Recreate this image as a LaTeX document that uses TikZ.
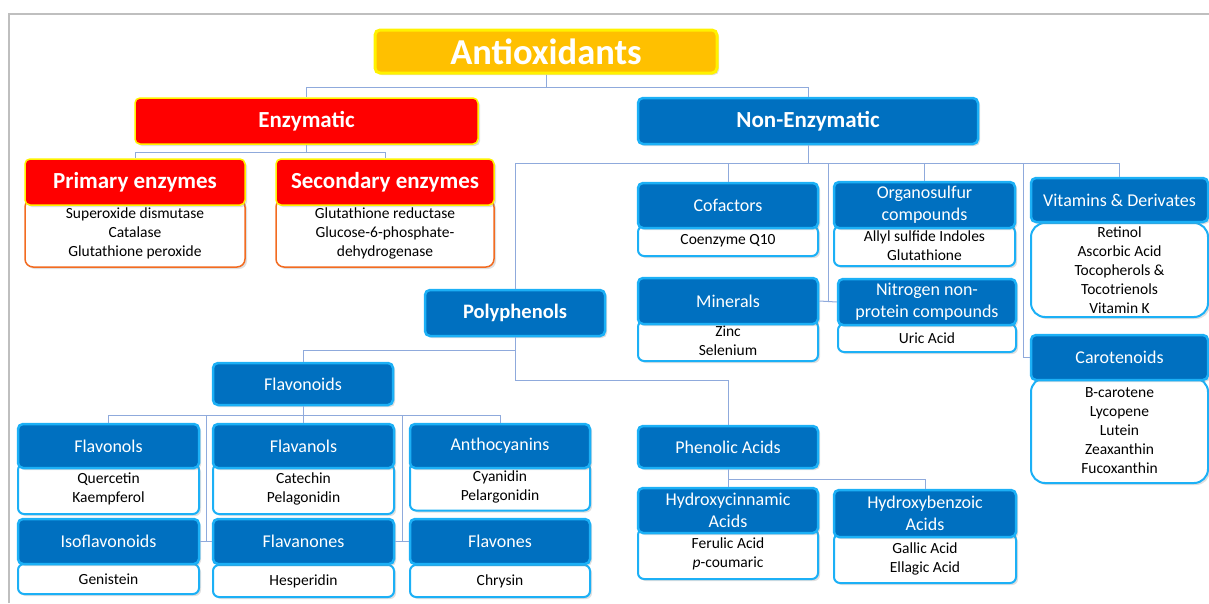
\documentclass[tikz,border=0pt]{standalone}
\usepackage{fontspec}
\setmainfont{Carlito}
\usetikzlibrary{calc,shadows}
\definecolor{hdblue}{HTML}{0070C0}
\definecolor{rimblue}{HTML}{1CB0F6}
\definecolor{linkblue}{HTML}{8FAADC}
\definecolor{goldfill}{HTML}{FFC000}
\definecolor{rimorange}{HTML}{F26B21}
\definecolor{framegray}{HTML}{BFBFBF}
\tikzset{
  box/.style={shape=rectangle, inner sep=0pt, align=center,
    drop shadow={shadow xshift=2pt, shadow yshift=-2pt, opacity=.25}},
  head/.style={box, fill=hdblue, draw=rimblue, line width=2.5pt, rounded corners=5pt,
    text=white, minimum width=180pt, minimum height=45pt, font=\fontsize{18}{22}\selectfont},
  body/.style={box, fill=white, draw=rimblue, line width=2pt, rounded corners=6pt,
    minimum width=180pt, font=\fontsize{15.5}{19}\selectfont},
  redhead/.style={box, fill=red, draw=yellow, line width=1.5pt, rounded corners=5pt,
    text=white, minimum height=46pt, font=\bfseries\fontsize{23}{27}\selectfont},
  redbody/.style={box, fill=white, draw=rimorange, line width=1.5pt, rounded corners=8pt,
    font=\fontsize{15.5}{19}\selectfont},
  link/.style={draw=linkblue, line width=1pt},
}
\begin{document}
\begin{tikzpicture}[x=1pt, y=-1pt]
  \useasboundingbox (0,0) rectangle (1209,603);
  \draw[framegray, line width=2pt] (9,603) -- (9,14) -- (1209,14);

  % top levels
  \node[box, fill=goldfill, draw=yellow, line width=3pt, rounded corners=5pt, text=white,
    minimum width=342pt, minimum height=43pt, font=\bfseries\fontsize{36.5}{40}\selectfont] (anti) at (546,51.5) {Antioxidants};
  \node[redhead, minimum width=343pt] (enz) at (306.5,121) {Enzymatic};
  \node[head, minimum width=340pt, minimum height=46pt, font=\bfseries\fontsize{23}{27}\selectfont] (nonenz) at (808,121) {Non-Enzymatic};

  % enzymatic
  \node[redbody, minimum width=220pt, minimum height=68pt] (pribody) at (135,233) {Superoxide dismutase\\Catalase\\Glutathione peroxide};
  \node[redhead, minimum width=220pt] (pri) at (135,182) {Primary enzymes};
  \node[redbody, minimum width=218pt, minimum height=68pt] (secbody) at (385,233) {Glutathione reductase\\Glucose-6-phosphate-\\dehydrogenase};
  \node[redhead, minimum width=218pt] (sec) at (385,182) {Secondary enzymes};

  % non-enzymatic
  \node[body, minimum height=30pt] (cofbody) at (728,241) {Coenzyme Q10};
  \node[head] (cof) at (728,205.5) {Cofactors};
  \node[body, minimum width=181pt, minimum height=40pt] (orgbody) at (924.5,246) {Allyl sulfide Indoles\\Glutathione};
  \node[head, minimum width=181pt, minimum height=46pt] (org) at (924.5,205) {Organosulfur\\compounds};
  \node[body, minimum width=177pt, minimum height=94pt, rounded corners=14pt] (vitbody) at (1119.5,270) {Retinol\\Ascorbic Acid\\Tocopherols \&\\Tocotrienols\\Vitamin K};
  \node[head, minimum width=177pt, minimum height=44pt] (vit) at (1119.5,200) {Vitamins \& Derivates};
  \node[body, minimum height=40pt] (minbody) at (728,341) {Zinc\\Selenium};
  \node[head, minimum height=46pt] (min) at (728,301) {Minerals};
  \node[body, minimum width=178pt, minimum height=28pt] (nitbody) at (927,338) {Uric Acid};
  \node[head, minimum width=178pt, minimum height=46pt] (nit) at (927,302) {Nitrogen non-\\protein compounds};
  \node[body, minimum width=177pt, minimum height=105pt, rounded corners=14pt] (carbody) at (1119.5,430.5) {B-carotene\\Lycopene\\Lutein\\Zeaxanthin\\Fucoxanthin};
  \node[head, minimum width=177pt] (car) at (1119.5,357.5) {Carotenoids};

  % polyphenols
  \node[head, minimum height=46pt, font=\bfseries\fontsize{20.5}{24}\selectfont] (poly) at (515,313) {Polyphenols};
  \node[head, minimum height=42pt] (flav) at (303,384) {Flavonoids};
  \node[body, minimum width=181pt, minimum height=50pt] (folbody) at (108.5,489) {Quercetin\\Kaempferol};
  \node[head, minimum width=181pt, minimum height=44pt] (fol) at (108.5,446) {Flavonols};
  \node[body, minimum width=181pt, minimum height=50pt] (fanbody) at (303.5,489) {Catechin\\Pelagonidin};
  \node[head, minimum width=181pt, minimum height=44pt] (fan) at (303.5,446) {Flavanols};
  \node[body, minimum height=48pt] (antbody) at (500,486.5) {Cyanidin\\Pelargonidin};
  \node[head, minimum height=44pt] (ant) at (500,446) {Anthocyanins};
  \node[body, minimum width=181pt, minimum height=30pt] (isobody) at (108.5,579) {Genistein};
  \node[head, minimum width=181pt] (iso) at (108.5,541.5) {Isoflavonoids};
  \node[body, minimum width=181pt, minimum height=32pt] (fnonbody) at (303.5,581) {Hesperidin};
  \node[head, minimum width=181pt] (fnon) at (303.5,541.5) {Flavanones};
  \node[body, minimum height=32pt] (fonebody) at (500,581) {Chrysin};
  \node[head] (fone) at (500,541.5) {Flavones};

  % phenolic acids
  \node[head, minimum height=42pt] (phen) at (728,447) {Phenolic Acids};
  \node[body, minimum height=50pt] (hcinbody) at (728,554) {Ferulic Acid\\\textit{p}-coumaric};
  \node[head] (hcin) at (728,510.5) {Hydroxycinnamic\\Acids};
  \node[body, minimum width=182pt, minimum height=49pt] (hbzbody) at (925,558.5) {Gallic Acid\\Ellagic Acid};
  \node[head, minimum width=182pt, minimum height=47pt] (hbz) at (925,513.5) {Hydroxybenzoic\\Acids};

  % connectors
  \draw[link] (anti.south) -- ++(0,13) -| (enz.north);
  \draw[link] (anti.south) -- ++(0,13) -| (nonenz.north);
  \draw[link] (enz.south) -- ++(0,8) -| (pri.north);
  \draw[link] (enz.south) -- ++(0,8) -| (sec.north);
  \draw[link] (nonenz.south) -- ++(0,18) coordinate (nbus);
  \draw[link] (nbus) -| (cof.north);
  \draw[link] (nbus) -| (org.north);
  \draw[link] (nbus) -| (vit.north);
  \draw[link] (nbus) -| (poly.north);
  \draw[link] (nbus) -| ($(min.east)!.5!(nit.west)$);
  \draw[link] (min.east) -- (nit.west);
  \draw[link] (nbus) -| ([xshift=-6pt]car.west) -- (car.west);
  \draw[link] (poly.south) -- ++(0,13) -| (flav.north);
  \draw[link] (poly.south) -- ++(0,43) -| (phen.north);
  \draw[link] (flav.south) -- ++(0,9) coordinate (fbus);
  \draw[link] (fbus) -| (fol.north);
  \draw[link] (fbus) -| (fan.north);
  \draw[link] (fbus) -| (ant.north);
  \draw[link] (fbus) -| ($(iso.east)!.5!(fnon.west)$);
  \draw[link] (iso.east) -- (fnon.west);
  \draw[link] (fbus) -| ($(fnon.east)!.5!(fone.west)$);
  \draw[link] (fnon.east) -- (fone.west);
  \draw[link] (phen.south) -- (hcin.north);
  \draw[link] (phen.south) -- ++(0,10) -| (hbz.north);
\end{tikzpicture}
\end{document}
